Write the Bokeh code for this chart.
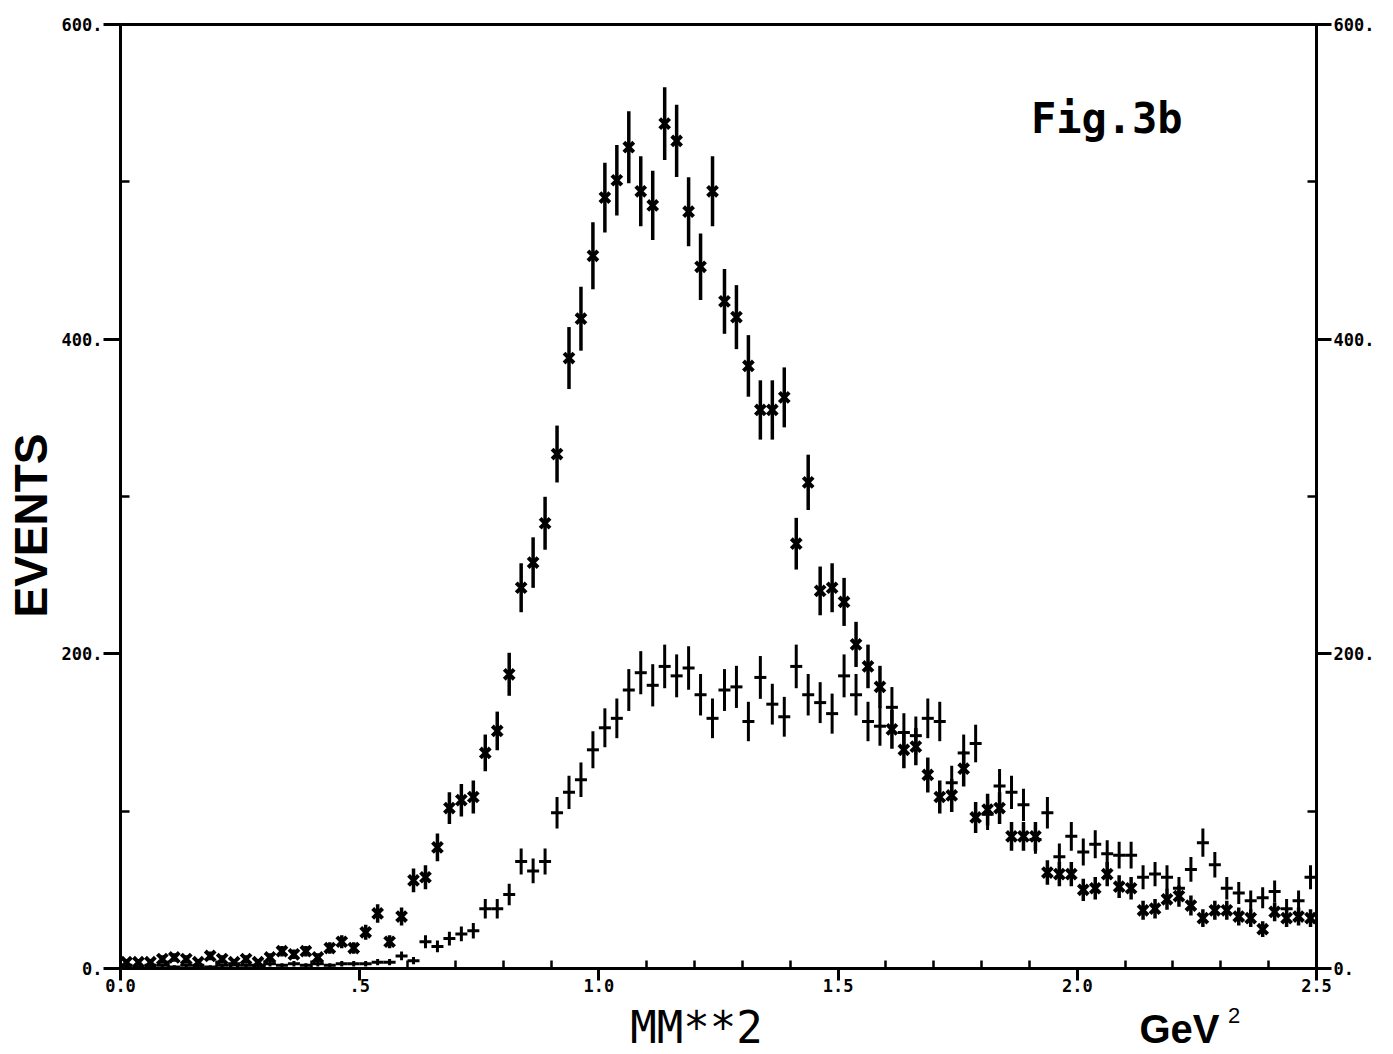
import numpy as np
from bokeh.plotting import figure
from bokeh.layouts import row, column
from bokeh.models import LinearAxis, FixedTicker, Range1d, Label
from bokeh.core.properties import value
from bokeh.embed import file_html
from bokeh.resources import INLINE

# Missing-mass-squared histogram: 100 bins of 0.025 GeV^2 from 0 to 2.5
bin_width = 0.025
n_bins = 100

# Upper distribution (drawn with X markers)
x_counts = [4, 4, 4, 6, 7, 6, 4, 8, 6, 4,
            6, 4, 7, 11, 9, 11, 7, 13, 17, 13,
            23, 35, 17, 33, 56, 58, 77, 102, 107, 109,
            137, 151, 187, 242, 258, 283, 327, 388, 413, 453,
            490, 501, 522, 494, 485, 537, 526, 481, 446, 494,
            424, 414, 383, 355, 355, 363, 270, 309, 240, 242,
            233, 206, 192, 179, 152, 139, 141, 123, 109, 110,
            127, 96, 101, 102, 84, 84, 84, 61, 60, 60,
            50, 51, 60, 52, 51, 37, 38, 44, 46, 40,
            32, 37, 37, 33, 32, 25, 36, 32, 33, 32]

# Lower distribution (drawn with + markers)
plus_counts = [2, 1, 2, 2, 1, 2, 2, 1, 2, 3,
               2, 2, 3, 2, 3, 2, 3, 2, 3, 3,
               3, 4, 4, 8, 5, 17, 14, 19, 22, 24,
               38, 38, 47, 68, 62, 68, 99, 112, 120, 139,
               153, 159, 177, 188, 180, 192, 186, 191, 174, 159,
               177, 179, 157, 185, 168, 160, 192, 174, 169, 162,
               186, 174, 157, 154, 166, 150, 148, 159, 157, 118,
               137, 143, 98, 116, 112, 104, 82, 99, 71, 84,
               74, 79, 73, 72, 72, 58, 60, 58, 51, 63,
               80, 66, 51, 48, 43, 45, 49, 38, 43, 58]

y_ticks = [0, 200, 400, 600]
y_minor = [100, 300, 500]
y_tick_labels = {0: "0.", 200: "200.", 400: "400.", 600: "600."}
x_ticks = [0, 0.5, 1, 1.5, 2, 2.5]
x_tick_labels = {0: "0.0", 0.5: ".5", 1: "1.0", 1.5: "1.5", 2: "2.0", 2.5: "2.5"}

centers = (np.arange(n_bins) + 0.5) * bin_width
xc = np.array(x_counts, dtype=float)
pc = np.array(plus_counts, dtype=float)

tick_font = "DejaVu Sans Mono"
x_range = Range1d(0, 2.5)

# ---- main histogram panel ----
p = figure(width=1335, height=1000,
           x_range=x_range, y_range=Range1d(0, 600),
           x_axis_location=None, y_axis_location=None,
           toolbar_location=None, output_backend="svg",
           min_border_left=60, min_border_right=77,
           min_border_top=24, min_border_bottom=32)
p.xgrid.grid_line_color = None
p.ygrid.grid_line_color = None
p.outline_line_color = "black"
p.outline_line_width = 3
p.background_fill_color = "white"
p.border_fill_color = "white"


def style_axis(ax, tick_out, minor_in):
    ax.axis_line_width = 3
    ax.axis_line_color = "black"
    ax.major_tick_out = tick_out
    ax.major_tick_in = 0
    ax.major_tick_line_width = 3
    ax.minor_tick_in = minor_in
    ax.minor_tick_out = 0
    ax.minor_tick_line_width = 2.5
    ax.major_label_text_font = tick_font
    ax.major_label_text_font_style = "bold"
    ax.major_label_text_font_size = "17px"
    ax.major_label_text_color = "black"


left = LinearAxis(ticker=FixedTicker(ticks=y_ticks, minor_ticks=y_minor),
                  major_label_overrides=y_tick_labels)
style_axis(left, 17, 9)
left.major_label_standoff = 1
p.add_layout(left, "left")

right = LinearAxis(ticker=FixedTicker(ticks=y_ticks, minor_ticks=y_minor),
                   major_label_overrides=y_tick_labels)
style_axis(right, 15, 9)
right.major_label_standoff = 2
p.add_layout(right, "right")

x_minor = [round(v, 1) for v in np.arange(0.1, 2.5, 0.1) if abs(v * 2 - round(v * 2)) > 1e-6]
below = LinearAxis(ticker=FixedTicker(ticks=x_ticks, minor_ticks=x_minor),
                   major_label_overrides=x_tick_labels)
style_axis(below, 12, 8)
below.major_label_standoff = -2
p.add_layout(below, "below")

# Poisson error bars
mask_x = xc > 0
p.segment(x0=centers[mask_x], y0=(xc - np.sqrt(xc))[mask_x],
          x1=centers[mask_x], y1=(xc + np.sqrt(xc))[mask_x],
          line_color="black", line_width=3.5)
mask_p = pc > 0
p.segment(x0=centers[mask_p], y0=(pc - np.sqrt(pc))[mask_p],
          x1=centers[mask_p], y1=(pc + np.sqrt(pc))[mask_p],
          line_color="black", line_width=3)

p.scatter(centers, xc, marker="x", size=14, line_width=4, line_color="black")
p.scatter(centers, pc, marker="dash", size=12, line_width=3, line_color="black")

p.add_layout(Label(x=1.903, y=540, text="Fig.3b", text_font=tick_font,
                   text_font_style="bold", text_font_size="42px",
                   text_baseline="middle", text_align="left", text_color="black"))

# ---- y-axis title strip ----
ylab = figure(width=58, height=1054, x_range=Range1d(0, 58), y_range=Range1d(0, 1054),
              x_axis_location=None, y_axis_location=None,
              toolbar_location=None, output_backend="svg",
              min_border_left=0, min_border_right=0, min_border_top=0, min_border_bottom=0)
ylab.xgrid.grid_line_color = None
ylab.ygrid.grid_line_color = None
ylab.outline_line_color = None
ylab.text(x=[30], y=[529], text=["EVENTS"], angle=np.pi / 2,
          text_font=value("Liberation Sans"), text_font_style="bold",
          text_font_size="46px", text_align="center", text_baseline="middle",
          text_color="black")

# ---- x-axis title strip ----
xlab = figure(width=1335, height=54, x_range=x_range, y_range=Range1d(0, 54),
              x_axis_location=None, y_axis_location=None,
              toolbar_location=None, output_backend="svg",
              min_border_left=60, min_border_right=77, min_border_top=0, min_border_bottom=0)
xlab.xgrid.grid_line_color = None
xlab.ygrid.grid_line_color = None
xlab.outline_line_color = None
xlab.text(x=[1.204], y=[27], text=["MM**2"],
          text_font=value("DejaVu Sans Mono"), text_font_style="normal",
          text_font_size="44px", text_align="center", text_baseline="middle",
          text_color="black")
xlab.text(x=[2.13], y=[26], text=["GeV"],
          text_font=value("Liberation Sans"), text_font_style="bold",
          text_font_size="40px", text_align="left", text_baseline="middle",
          text_color="black")
xlab.text(x=[2.315], y=[39], text=["2"],
          text_font=value("Liberation Sans"), text_font_style="normal",
          text_font_size="22px", text_align="left", text_baseline="middle",
          text_color="black")

layout = row(ylab, column(p, xlab, spacing=0), spacing=0)
open("out.html", "w").write(file_html(layout, INLINE))
